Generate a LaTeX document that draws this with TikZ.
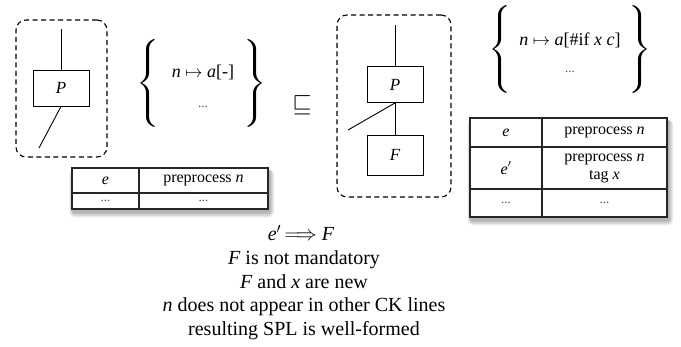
\documentclass[tikz,border=0pt]{standalone}
\usepackage{fontspec}
\setmainfont{Liberation Serif}
\usepackage{graphicx}
\newcommand{\mybrl}[1]{\scalebox{2.6}[2.1]{$\left\{\vrule height #1 depth #1 width 0pt\right.$}}
\newcommand{\mybrr}[1]{\scalebox{2.6}[2.1]{$\left.\vrule height #1 depth #1 width 0pt\right\}$}}
\begin{document}
\begin{tikzpicture}[x=1pt,y=-1pt,
  dbox/.style={draw, dash pattern=on 5pt off 3.5pt, rounded corners=10pt, line width=1.1pt},
  pbox/.style={draw, line width=0.9pt, minimum width=56pt, minimum height=36pt, inner sep=0pt, font=\fontsize{17}{20}\selectfont\itshape},
  wire/.style={line width=0.9pt},
  tframe/.style={draw=black!85, line width=1.2pt, fill=white, inner sep=0pt},
  tline/.style={draw=black!85, line width=1.1pt},
  tcell/.style={font=\fontsize{16}{18}\selectfont, inner sep=0pt, align=center},
  tdots/.style={font=\fontsize{13}{14}\selectfont, text=black!70, inner sep=0pt},
  brace/.style={inner sep=0pt},
  btext/.style={font=\fontsize{18}{20}\selectfont, inner sep=0pt},
  bigtext/.style={font=\fontsize{20}{23.5}\selectfont, align=center, inner sep=0pt},
]
\useasboundingbox (0,0) rectangle (681,346);

% ---------- left dashed component ----------
\node[dbox, minimum width=91pt, minimum height=137pt] (ldash) at (61.5,88.5) {};
\node[pbox] (lP) at (61,88) {P};
\coordinate (ltop) at (61,29);
\coordinate (lbot) at (39,148);
\draw[wire] (ltop) -- (lP.north);
\draw[wire] (lP.south) -- (lbot);

% ---------- left braces ----------
\node[brace] (lbl) at (150,85) {\mybrl{20pt}};
\node[brace] (lbr) at (253,85) {\mybrr{20pt}};
\node[btext] (lmap) at (203,72) {\textit{n} $\mapsto$ \textit{a}[-]};
\node[tdots] (ldots) at (203,107) {...};

% ---------- sqsubseteq ----------
\node[inner sep=0pt] (sq) at (302,105) {\scalebox{2.5}{$\sqsubseteq$}};

% ---------- left table ----------
\foreach \i in {1,...,6}
  \fill[black, opacity=0.055, rounded corners=\i pt] (72-\i*0.7+1.5,168-\i*0.3+3) rectangle (268+\i*0.8+1.5,209+\i*0.9+3);
\node[tframe, minimum width=196pt, minimum height=41pt] (ltab) at (170,188.5) {};
\draw[tline] (139,168) -- (139,209);
\draw[tline] (72,193) -- (268,193);
\node[tcell] (le) at (105.5,180.5) {\textit{e}};
\node[tcell] (lpre) at (203.5,180.5) {preprocess \textit{n}};
\node[tdots] (ld1) at (105.5,201) {...};
\node[tdots] (ld2) at (203.5,201) {...};

% ---------- right dashed component ----------
\node[dbox, minimum width=114pt, minimum height=182pt] (rdash) at (394,106) {};
\node[pbox] (rP) at (395,84.5) {P};
\node[pbox, minimum height=40pt] (rF) at (395,155) {F};
\coordinate (rtop) at (395,25);
\coordinate (rleft) at (348,130);
\draw[wire] (rtop) -- (rP.north);
\draw[wire] (rP.south) -- (rF.north);
\draw[wire] (rP.south) -- (rleft);

% ---------- right braces ----------
\node[brace] (rbl) at (502,51) {\mybrl{20pt}};
\node[brace] (rbr) at (638,51) {\mybrr{20pt}};
\node[btext] (rmap) at (570,40) {\textit{n} $\mapsto$ \textit{a}[\#if \textit{x} \textit{c}]};
\node[tdots] (rdots) at (570,72) {...};

% ---------- right table ----------
\foreach \i in {1,...,6}
  \fill[black, opacity=0.055, rounded corners=\i pt] (470-\i*0.7+1.5,118-\i*0.3+3) rectangle (667+\i*0.8+1.5,217+\i*0.9+3);
\node[tframe, minimum width=197pt, minimum height=99pt] (rtab) at (568.5,167.5) {};
\draw[tline] (542,118) -- (542,217);
\draw[tline] (470,147) -- (667,147);
\draw[tline] (470,189) -- (667,189);
\node[tcell] (re) at (506,132.5) {\textit{e}};
\node[tcell] (rpre) at (604.5,132.5) {preprocess \textit{n}};
\node[tcell] (rep) at (506,168) {\textit{e}$'$};
\node[tcell] (rpre2) at (604.5,168) {preprocess \textit{n}\\tag \textit{x}};
\node[tdots] (rd1) at (506,203) {...};
\node[tdots] (rd2) at (604.5,203) {...};

% ---------- conditions ----------
\node[bigtext] (impl) at (301,233) {\textit{e}$'$\,$\Longrightarrow$ \textit{F}};
\node[bigtext] (conds) at (304,295) {\textit{F} is not mandatory\\ \textit{F} and \textit{x} are new\\ \textit{n} does not appear in other CK lines\\ resulting SPL is well-formed};
\end{tikzpicture}
\end{document}
